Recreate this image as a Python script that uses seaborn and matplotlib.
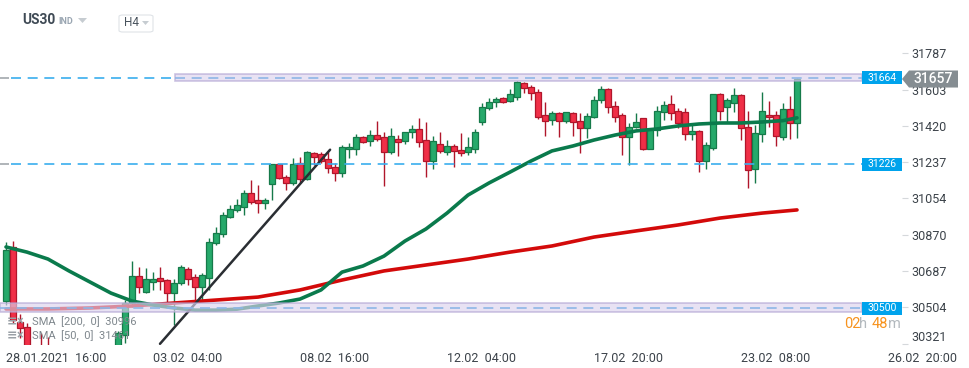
import numpy as np
import matplotlib.pyplot as plt
import seaborn as sns
from matplotlib.patches import Rectangle, Polygon, FancyBboxPatch
from matplotlib.transforms import blended_transform_factory

# ## US30 H4 candles, 28.01.2021 -> 26.02.2021
opens = [30537, 30810, 30432, 30405, 30280, 30290, 30280, 30230, 30180, 30210,
         30190, 30140, 30170, 30230, 30260, 30210, 30278, 30364, 30526, 30662,
         30581, 30632, 30652, 30642, 30576, 30627, 30698, 30657, 30607, 30652,
         30829, 30874, 30960, 30996, 31011, 31081, 31046, 31031, 31127, 31228,
         31162, 31132, 31233, 31152, 31283, 31278, 31253, 31213, 31182, 31304,
         31304, 31364, 31344, 31374, 31364, 31288, 31354, 31344, 31389, 31405,
         31349, 31243, 31329, 31288, 31319, 31299, 31288, 31304, 31440, 31511,
         31541, 31561, 31546, 31566, 31637, 31617, 31591, 31475, 31450, 31485,
         31445, 31485, 31445, 31410, 31465, 31551, 31607, 31521, 31475, 31364,
         31415, 31460, 31304, 31400, 31490, 31531, 31495, 31490, 31379, 31395,
         31243, 31309, 31581, 31516, 31536, 31576, 31415, 31203, 31379, 31475,
         31475, 31364, 31506, 31435]
highs = [30835, 30840, 30470, 30425, 30300, 30374, 30354, 30280, 30240, 30260,
         30230, 30200, 30250, 30290, 30300, 30280, 30384, 30541, 30738, 30708,
         30703, 30682, 30708, 30647, 30647, 30718, 30708, 30672, 30677, 30854,
         30910, 30985, 31021, 31051, 31097, 31147, 31122, 31056, 31228, 31230,
         31172, 31258, 31263, 31294, 31288, 31288, 31288, 31233, 31324, 31334,
         31379, 31369, 31400, 31445, 31389, 31410, 31374, 31389, 31425, 31460,
         31440, 31369, 31389, 31349, 31329, 31384, 31364, 31405, 31536, 31561,
         31566, 31566, 31607, 31647, 31642, 31627, 31607, 31541, 31495, 31490,
         31490, 31490, 31485, 31485, 31571, 31622, 31612, 31546, 31485, 31435,
         31485, 31460, 31405, 31521, 31546, 31576, 31511, 31511, 31425, 31400,
         31339, 31581, 31586, 31561, 31612, 31581, 31495, 31425, 31591, 31546,
         31495, 31536, 31571, 31662]
lows = [30516, 30425, 30349, 30240, 30190, 30170, 30180, 30150, 30120, 30160,
        30110, 30090, 30150, 30200, 30180, 30190, 30258, 30325, 30506, 30576,
        30576, 30592, 30592, 30531, 30415, 30617, 30617, 30541, 30541, 30592,
        30819, 30859, 30955, 30985, 30970, 31026, 30980, 31001, 31046, 31152,
        31097, 31122, 31132, 31147, 31223, 31233, 31182, 31142, 31162, 31258,
        31273, 31334, 31319, 31344, 31117, 31278, 31268, 31329, 31359, 31314,
        31162, 31203, 31283, 31273, 31213, 31268, 31273, 31283, 31425, 31501,
        31516, 31536, 31541, 31551, 31586, 31551, 31455, 31369, 31425, 31364,
        31435, 31369, 31283, 31359, 31460, 31536, 31485, 31440, 31273, 31223,
        31410, 31299, 31304, 31369, 31450, 31450, 31410, 31349, 31349, 31187,
        31203, 31299, 31450, 31440, 31490, 31349, 31107, 31132, 31339, 31415,
        31319, 31349, 31354, 31359]
closes = [30794, 30440, 30398, 30278, 30215, 30200, 30230, 30180, 30210, 30190,
          30140, 30170, 30230, 30260, 30210, 30270, 30374, 30526, 30662, 30607,
          30647, 30647, 30637, 30576, 30627, 30708, 30647, 30607, 30667, 30834,
          30879, 30970, 31001, 31021, 31081, 31036, 31031, 31046, 31228, 31157,
          31132, 31228, 31152, 31288, 31263, 31243, 31208, 31182, 31314, 31314,
          31364, 31339, 31374, 31354, 31288, 31369, 31339, 31389, 31405, 31339,
          31243, 31344, 31294, 31319, 31294, 31283, 31314, 31389, 31516, 31541,
          31556, 31541, 31581, 31642, 31612, 31586, 31465, 31445, 31485, 31445,
          31490, 31440, 31410, 31470, 31551, 31607, 31516, 31465, 31364, 31415,
          31440, 31304, 31405, 31495, 31526, 31485, 31435, 31379, 31395, 31243,
          31324, 31581, 31495, 31551, 31576, 31410, 31198, 31384, 31495, 31465,
          31369, 31506, 31435, 31657]

# moving averages (candle index, value)
sma_idx = [0, 3, 6, 9, 12, 15, 18, 21, 24, 27, 30, 33, 36, 39, 42, 45, 48, 51, 54,
           57, 60, 63, 66, 69, 72, 75, 78, 81, 84, 87, 90, 93, 96, 99, 102, 105,
           108, 111, 113]
sma50 = [30809, 30783, 30748, 30688, 30632, 30576, 30536, 30516, 30501, 30490,
         30490, 30495, 30511, 30526, 30546, 30592, 30682, 30713, 30763, 30839,
         30900, 30980, 31071, 31132, 31187, 31243, 31294, 31319, 31349, 31374,
         31395, 31405, 31420, 31430, 31435, 31435, 31440, 31447, 31461]
sma200_idx = [0, 6, 12, 18, 24, 30, 36, 42, 48, 54, 60, 66, 72, 78, 84, 90, 96,
              102, 108, 113]
sma200 = [30496, 30496, 30501, 30511, 30526, 30541, 30556, 30592, 30642, 30688,
          30718, 30748, 30783, 30814, 30859, 30890, 30920, 30955, 30980, 30996]

trend_idx = [22, 46.3]
trend_val = [30320, 31300]

level_top, level_mid, level_low = 31664, 31226, 30500
last_price = 31657

yticks = [30321, 30504, 30687, 30870, 31054, 31237, 31420, 31603, 31787]
xtick_pos = [0, 21, 42, 63, 84, 105, 126]
xtick_lab = ["28.01.2021  16:00", "03.02  04:00", "08.02  16:00", "12.02  04:00",
             "17.02  20:00", "23.02  08:00", "26.02  20:00"]

sns.set_style("white")
plt.rcParams['font.family'] = ['Roboto', 'DejaVu Sans']

W, H = 970, 368
fig = plt.figure(figsize=(W / 100, H / 100), dpi=100)
ax = fig.add_axes([0, 23 / H, 902 / W, 305 / H])

x0, x1 = -6 / 7, 128
ax.set_xlim(x0, x1)
ax.set_ylim(30314, 31854)

o = np.array(opens); c = np.array(closes)
hi = np.array(highs); lo = np.array(lows)
idx = np.arange(len(o))
up = c >= o
fill = np.where(up, '#26a96b', '#f02f47')
edge = np.where(up, '#167a4a', '#b0162b')
body_lo = np.minimum(o, c)
body_h = np.maximum(np.abs(c - o), 4)

ax.vlines(idx, lo, hi, colors=edge, linewidth=1, zorder=2)
ax.bar(idx, body_h, bottom=body_lo, width=0.72, color=fill, edgecolor=edge,
       linewidth=0.9, zorder=3)

# SMA lines + trendline
sns.lineplot(x=sma200_idx, y=sma200, ax=ax, color='#d30a0a', linewidth=2.6, zorder=4)
sns.lineplot(x=sma_idx, y=sma50, ax=ax, color='#0a7a4c', linewidth=2.6, zorder=4)
sns.lineplot(x=trend_idx, y=trend_val, ax=ax, color='#2a2e33', linewidth=1.8, zorder=4)

# zones
band_end = (862 - 6) / 7
ax.add_patch(Rectangle(((175 - 6) / 7, 31647), band_end - (175 - 6) / 7, 31680 - 31647,
                       facecolor='#dcd3ee', edgecolor='#b2a5d3', alpha=0.65, lw=1.2, zorder=5))
ax.add_patch(Rectangle((x0, 30480), band_end - x0, 30525 - 30480,
                       facecolor='#dcd3ee', edgecolor='#b2a5d3', alpha=0.65, lw=1.2, zorder=5))

dash = (0, (6, 4))
ax.hlines(level_top, x0 + 1.6, (175 - 6) / 7, colors='#3aaeee', linestyles=dash, lw=1.2, zorder=6)
ax.hlines(level_top, (175 - 6) / 7, band_end, colors='#8db6e6', linestyles=dash, lw=1.2, zorder=6)
ax.hlines(level_mid, x0 + 1.6, band_end, colors='#3aaeee', linestyles=dash, lw=1.2, zorder=6)
ax.hlines(level_low, x0, band_end, colors='#8db6e6', linestyles=dash, lw=1.2, zorder=6)
for lv in (level_top, level_mid):
    ax.hlines(lv, x0, x0 + 1.3, colors='#9aa0a6', lw=1.1, zorder=6)

# level labels
bt = blended_transform_factory(ax.transAxes, ax.transData)
for lv in (level_top, level_mid, level_low):
    ax.add_patch(Rectangle((862 / 902, lv - 33), 40 / 902, 66, transform=bt,
                           facecolor='#00a3ec', edgecolor='none', zorder=7, clip_on=False))
    ax.text(882 / 902, lv, str(lv), transform=bt, ha='center', va='center',
            color='white', fontsize=7.5, zorder=8, clip_on=False)

# axes cosmetics
for s in ax.spines.values():
    s.set_visible(False)
ax.yaxis.tick_right()
ax.set_yticks(yticks)
ax.set_yticklabels([str(v) for v in yticks])
ax.tick_params(axis='y', length=4, color='#d5d8db', labelsize=9, labelcolor='#3c434a', pad=3)
ax.get_yticklabels()[0].set_va('bottom')
ax.set_xticks(xtick_pos)
ax.set_xticklabels(xtick_lab, ha='left')
ax.tick_params(axis='x', length=4, color='#d5d8db', labelsize=9, labelcolor='#3c434a', pad=1)
ax.set_xlabel(''); ax.set_ylabel('')

# current price tag
fb = blended_transform_factory(fig.transFigure, ax.transData)
p = last_price
tag = Polygon([(902 / W, p), (909 / W, p + 43), (958 / W, p + 43), (958 / W, p - 43),
               (909 / W, p - 43)], closed=True, transform=fb, facecolor='#858d92',
              edgecolor='none', zorder=10, clip_on=False)
fig.add_artist(tag)
fig.text(933 / W, 0, str(p), transform=fb, ha='center', va='center', color='white',
         fontsize=10, fontweight='medium', zorder=11).set_y(p)

# header
def fy(py):
    return 1 - py / H

fig.text(22 / W, fy(20), "US30", fontsize=10, fontweight='bold', color='#3f4a55', va='center')
fig.text(58 / W, fy(21), "IND", fontsize=6.5, fontweight='bold', color='#9aa6b2', va='center')
fig.add_artist(Polygon([(78 / W, fy(18)), (87 / W, fy(18)), (82.5 / W, fy(23))],
                       closed=True, facecolor='#c6ccd1', edgecolor='none'))
fig.add_artist(FancyBboxPatch((119 / W, fy(32)), 34 / W, 17 / H,
                              boxstyle='round,pad=0,rounding_size=0.004',
                              facecolor='white', edgecolor='#dfe3e7', lw=0.8))
fig.text(124 / W, fy(23), "H4", fontsize=8.5, color='#4a545e', va='center')
fig.add_artist(Polygon([(142 / W, fy(21)), (149 / W, fy(21)), (145.5 / W, fy(25))],
                       closed=True, facecolor='#c6ccd1', edgecolor='none'))

# countdown
for tx, px, col in (("02", 844, '#f7931e'), ("h", 859, '#b3b9be'),
                    ("48", 872, '#f7931e'), ("m", 888, '#b3b9be')):
    fig.text(px / W, fy(324), tx, fontsize=10.5, color=col, va='center')

# indicator legend
for ly, txt in ((322, "SMA  [200,  0]  30996"), (336, "SMA  [50,  0]  31461")):
    fig.text(7 / W, fy(ly), "\u2261", fontsize=9, color='#9aa0a6', va='center', fontweight='bold')
    fig.text(17 / W, fy(ly), "\u00d7", fontsize=9, color='#9aa0a6', va='center', fontweight='bold')
    fig.text(32 / W, fy(ly), txt, fontsize=8, color='#7f878d', va='center')

fig.savefig('out.png', dpi=100)
